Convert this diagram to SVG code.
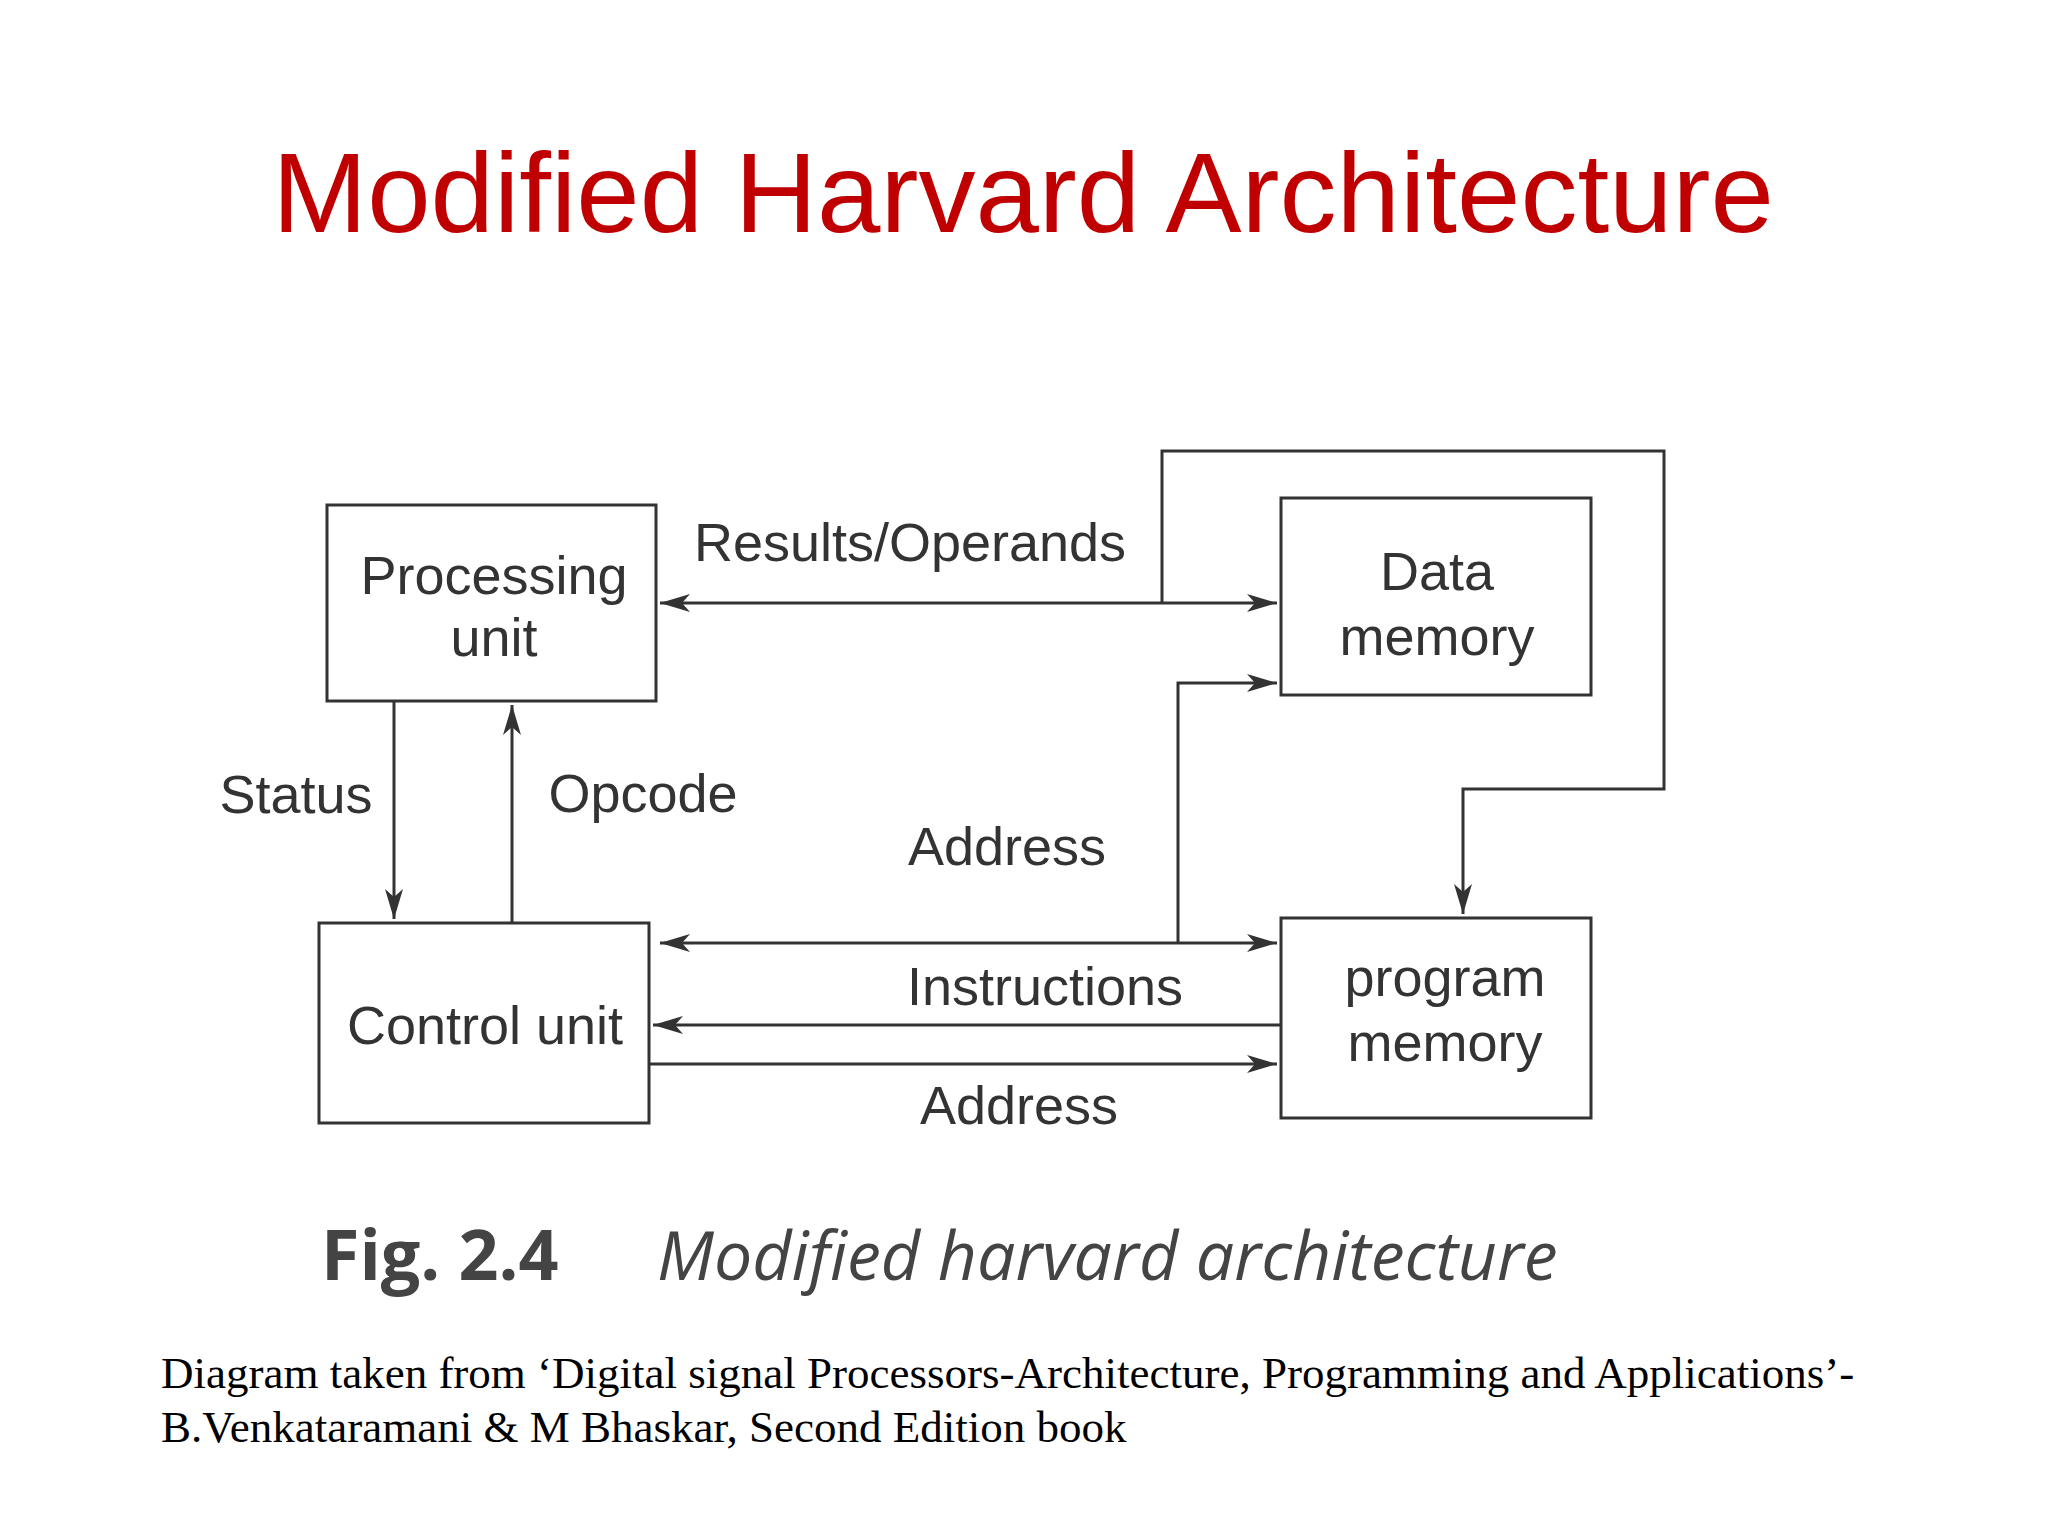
<svg xmlns="http://www.w3.org/2000/svg" width="2048" height="1536" viewBox="0 0 2048 1536">
<style>
.box{fill:none;stroke:#333;stroke-width:3}
.ln{fill:none;stroke:#333;stroke-width:3}
.t{font-family:"Liberation Sans",Arial,sans-serif;font-size:54px;fill:#333;text-anchor:middle;dominant-baseline:central}
</style>
<defs>
<marker id="a" viewBox="0 0 30 18" refX="30" refY="9" markerWidth="30" markerHeight="18" markerUnits="userSpaceOnUse" orient="auto-start-reverse">
<path d="M0,0 L30,9 L0,18 L8,9 Z" fill="#333"/>
</marker>
</defs>
<rect width="2048" height="1536" fill="#fff"/>
<text x="1023" y="232" font-family="Liberation Sans,Arial,sans-serif" font-size="114" fill="#c00000" text-anchor="middle">Modified Harvard Architecture</text>
<g id="processing"><rect class="box" x="327" y="505" width="329" height="196"/><text class="t" x="494" y="575">Processing</text><text class="t" x="494" y="637">unit</text></g>
<g id="data"><rect class="box" x="1281" y="498" width="310" height="197"/><text class="t" x="1437" y="571">Data</text><text class="t" x="1437" y="636">memory</text></g>
<g id="control"><rect class="box" x="319" y="923" width="330" height="200"/><text class="t" x="485" y="1025">Control unit</text></g>
<g id="program"><rect class="box" x="1281" y="918" width="310" height="200"/><text class="t" x="1445" y="977">program</text><text class="t" x="1445" y="1042">memory</text></g>
<g id="connectors">
<line class="ln" x1="660" y1="603" x2="1277" y2="603" marker-start="url(#a)" marker-end="url(#a)"/>
<polyline class="ln" points="1162,603 1162,451 1664,451 1664,789 1463,789 1463,914" marker-end="url(#a)"/>
<polyline class="ln" points="1178,943 1178,683 1277,683" marker-end="url(#a)"/>
<line class="ln" x1="660" y1="943" x2="1277" y2="943" marker-start="url(#a)" marker-end="url(#a)"/>
<line class="ln" x1="1281" y1="1025" x2="653" y2="1025" marker-end="url(#a)"/>
<line class="ln" x1="649" y1="1064" x2="1277" y2="1064" marker-end="url(#a)"/>
<line class="ln" x1="394" y1="701" x2="394" y2="919" marker-end="url(#a)"/>
<line class="ln" x1="512" y1="923" x2="512" y2="705" marker-end="url(#a)"/>
<text class="t" x="910" y="542">Results/Operands</text>
<text class="t" x="296" y="794">Status</text>
<text class="t" x="643" y="793">Opcode</text>
<text class="t" x="1007" y="846">Address</text>
<text class="t" x="1045" y="986">Instructions</text>
<text class="t" x="1019" y="1105">Address</text>
</g>
<text x="321" y="1280" font-family="Open Sans,Liberation Sans,sans-serif" font-weight="bold" font-size="70" fill="#444">Fig. 2.4</text>
<text x="657" y="1280" font-family="Open Sans,Liberation Sans,sans-serif" font-style="italic" font-size="68" fill="#444">Modified harvard architecture</text>
<text x="161" y="1388" font-family="Liberation Serif,Times New Roman,serif" font-size="45" fill="#000">Diagram taken from ‘Digital signal Processors-Architecture, Programming and Applications’-</text>
<text x="161" y="1442" font-family="Liberation Serif,Times New Roman,serif" font-size="45" fill="#000">B.Venkataramani &amp; M Bhaskar, Second Edition book</text>
</svg>
